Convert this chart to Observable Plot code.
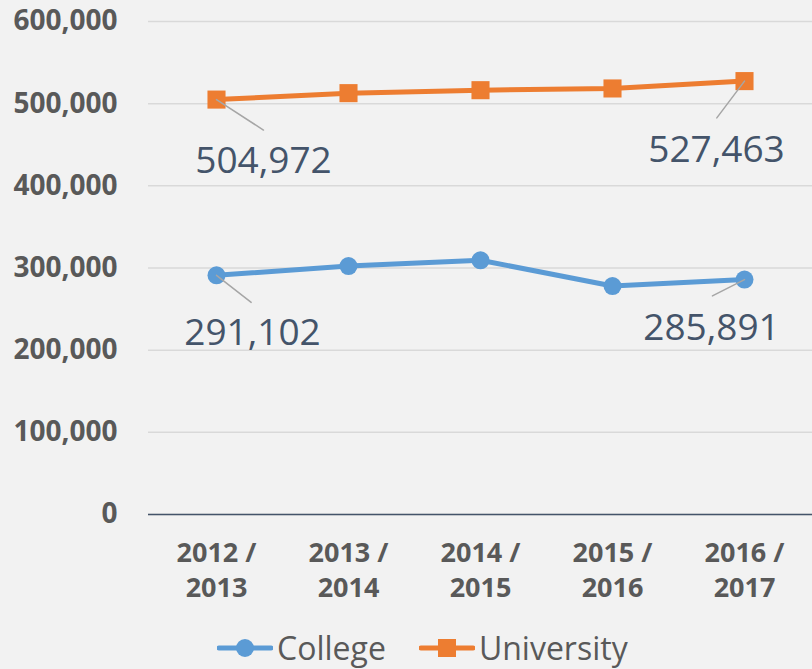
<!DOCTYPE html>
<html>
<head>
<meta charset="utf-8">
<script src="https://cdn.jsdelivr.net/npm/d3@7"></script>
<script src="https://cdn.jsdelivr.net/npm/@observablehq/plot@0.6"></script>
<style>
  html, body { margin: 0; padding: 0; background: #f2f2f2; overflow: hidden; }
  #wrap { position: relative; width: 812px; height: 669px; }
  #legend { position: absolute; left: 217px; top: 628px; display: flex; align-items: center;
    font-family: "Open Sans", sans-serif; font-size: 32px; line-height: 40px; color: #595959; white-space: nowrap; }
  #legend .item { display: flex; align-items: center; }
  #legend svg { display: block; margin-right: 4px; }
</style>
</head>
<body>
<div id="wrap"><div id="chart"></div><div id="legend"></div></div>
<script>
const years = ["2012 / 2013", "2013 / 2014", "2014 / 2015", "2015 / 2016", "2016 / 2017"];
const collegeValues = [291102, 302400, 309400, 278000, 285891];
const universityValues = [504972, 512800, 516400, 518500, 527463];
const seriesNames = ["College", "University"];
const yTicks = [0, 100000, 200000, 300000, 400000, 500000, 600000];

const colors = {College: "#5b9bd5", University: "#ed7d31"};
const college = years.map((year, i) => ({year, value: collegeValues[i], series: "College"}));
const university = years.map((year, i) => ({year, value: universityValues[i], series: "University"}));
const fmt = d3.format(",");

const leaderShape = {
  draw(context, l) { context.moveTo(0, 0); context.lineTo(0, -l); }
};

function callout(data, i, dx, dy, rotate, length) {
  const d = [data[i]];
  return [
    Plot.vector(d, {x: "year", y: "value", anchor: "start", rotate, length, shape: leaderShape,
      stroke: "#a6a6a6", strokeWidth: 1.5}),
    Plot.text(d, {x: "year", y: "value", text: v => fmt(v.value), dx, dy, fontSize: 37,
      fill: "#44546a", fontFamily: "Open Sans", textAnchor: "middle", lineAnchor: "middle"})
  ];
}

const chart = Plot.plot({
  width: 812,
  height: 669,
  marginLeft: 148,
  marginRight: 0,
  marginTop: 21,
  marginBottom: 155,
  style: {background: "#f2f2f2", fontFamily: "Open Sans", overflow: "visible"},
  x: {domain: years, type: "point", padding: 0.5},
  y: {domain: [0, 600000]},
  marks: [
    Plot.gridY(yTicks, {stroke: "#d9d9d9", strokeOpacity: 1, strokeWidth: 1.5}),
    Plot.ruleY([0], {stroke: "#44546a", strokeWidth: 1.5}),
    Plot.axisY(yTicks, {tickSize: 0, tickPadding: 31, fontSize: 28, fontWeight: "bold",
      fill: "#595959", tickFormat: fmt, label: null}),
    Plot.axisX({tickSize: 0, tickPadding: 22, fontSize: 27, fontWeight: "bold", fill: "#595959",
      lineHeight: 1.32, tickFormat: d => d.replace(" / ", " /\n"), label: null}),
    Plot.line(college, {x: "year", y: "value", stroke: colors.College, strokeWidth: 5}),
    Plot.dot(college, {x: "year", y: "value", r: 9, fill: colors.College, symbol: "circle"}),
    Plot.line(university, {x: "year", y: "value", stroke: colors.University, strokeWidth: 5}),
    Plot.dot(university, {x: "year", y: "value", r: 10.2, fill: colors.University, symbol: "square"}),
    ...callout(university, 0, 47, 62, 123, 56),
    ...callout(university, 4, -28, 69, 217, 46),
    ...callout(college, 0, 36, 58, 128, 44),
    ...callout(college, 4, -33, 49, 243, 36)
  ]
});
document.getElementById("chart").appendChild(chart);

const legend = document.getElementById("legend");
seriesNames.forEach((name, i) => {
  const item = document.createElement("div");
  item.className = "item";
  if (i > 0) item.style.marginLeft = "33px";
  const sym = name === "College"
    ? `<circle cx="28" cy="10" r="9" fill="${colors[name]}"/>`
    : `<rect x="19" y="1" width="18" height="18" fill="${colors[name]}"/>`;
  item.innerHTML = `<svg width="56" height="20"><line x1="2" x2="54" y1="10" y2="10" stroke="${colors[name]}" stroke-width="5" stroke-linecap="round"/>${sym}</svg><span>${name}</span>`;
  legend.appendChild(item);
});
</script>
</body>
</html>
